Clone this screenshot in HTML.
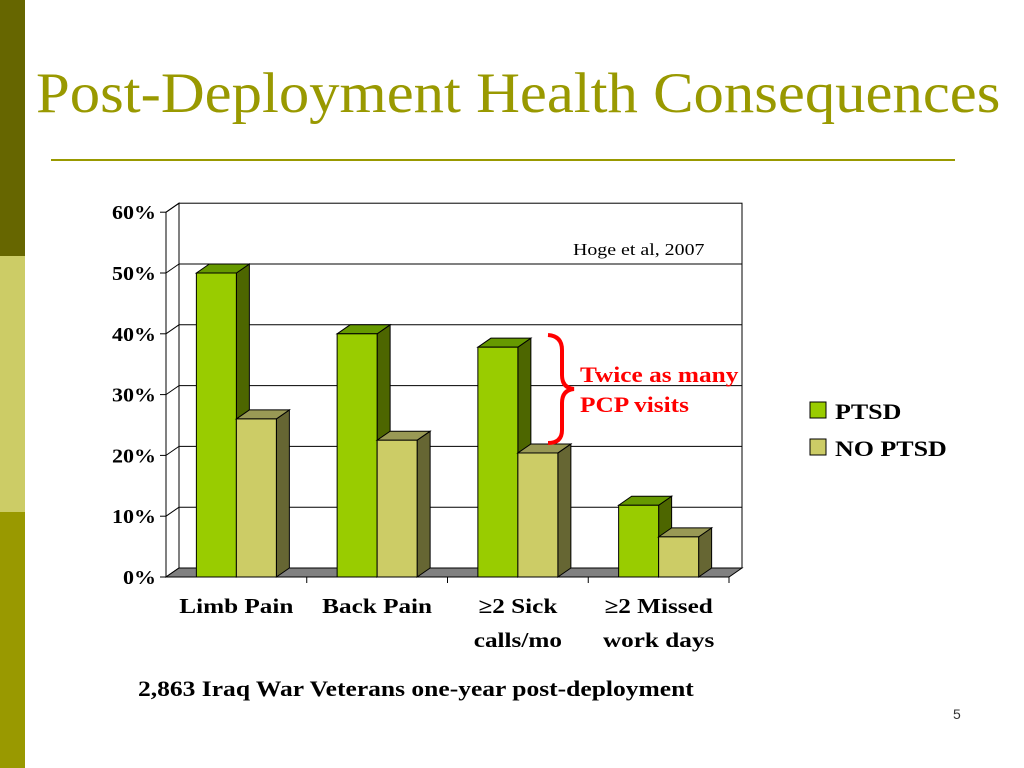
<!DOCTYPE html>
<html><head><meta charset="utf-8"><style>
html,body{margin:0;padding:0;background:#fff;}
body{width:1024px;height:768px;position:relative;overflow:hidden;font-family:"Liberation Serif",serif;}
.sx{transform-origin:0 0;white-space:nowrap;}
</style></head><body>
<div style="position:absolute;left:0;top:0;width:25px;height:256px;background:#666600"></div>
<div style="position:absolute;left:0;top:256px;width:25px;height:256px;background:#cccc66"></div>
<div style="position:absolute;left:0;top:512px;width:25px;height:256px;background:#999900"></div>
<div class="sx" style="position:absolute;left:36px;top:62px;font-size:57px;color:#999900;line-height:64px;transform:scaleX(1.065)">Post-Deployment Health Consequences</div>
<div style="position:absolute;left:51px;top:159px;width:904px;height:2px;background:#999900"></div>
<svg id="chart" width="1024" height="768" style="position:absolute;left:0;top:0"></svg>
<div class="sx" style="position:absolute;left:573px;top:240px;font-size:17px;color:#000;transform:scaleX(1.17)">Hoge et al, 2007</div>
<div class="sx" style="position:absolute;left:580px;top:360px;font-size:22px;font-weight:bold;color:#ff0000;line-height:30px;transform:scaleX(1.15)">Twice as many<br>PCP visits</div>
<div class="sx" style="position:absolute;left:138px;top:676px;font-size:22px;font-weight:bold;color:#000;transform:scaleX(1.16)">2,863 Iraq War Veterans one-year post-deployment</div>
<div style="position:absolute;left:953px;top:706px;font-size:14px;font-family:'Liberation Sans',sans-serif;color:#333">5</div>
<script>
const categories=["Limb Pain","Back Pain","≥2 Sick|calls/mo","≥2 Missed|work days"];
const ptsd=[50,40,37.8,11.8];
const noPtsd=[26,22.5,20.4,6.6];
const yTicks=[0,10,20,30,40,50,60];
const seriesNames=["PTSD","NO PTSD"];
const NS="http://www.w3.org/2000/svg";
const svg=document.getElementById('chart');
const x0=166,x1=729,y0=577,ppv=6.08,dx=13,dy=-9,catW=(x1-x0)/categories.length;
const Y=v=>y0-v*ppv;
function el(t,a,p){const e=document.createElementNS(NS,t);for(const k in a)e.setAttribute(k,a[k]);(p||svg).appendChild(e);return e;}
function stretch(t,f){const w=t.getComputedTextLength();t.setAttribute('textLength',w*f);t.setAttribute('lengthAdjust','spacingAndGlyphs');}
let bw=el('rect',{x:x0+dx,y:Y(60)+dy,width:x1-x0,height:60*ppv,fill:'#fff',stroke:'#000','stroke-width':1});


let lw=el('polygon',{points:`${x0},${y0} ${x0+dx},${y0+dy} ${x0+dx},${Y(60)+dy} ${x0},${Y(60)}`,fill:'#fff',stroke:'#000'});


yTicks.forEach(t=>{
  if(t>0&&t<60){const g=el('line',{x1:x0+dx,y1:Y(t)+dy,x2:x1+dx,y2:Y(t)+dy,stroke:'#000'});
  
  }
  const d=el('line',{x1:x0,y1:Y(t),x2:x0+dx,y2:Y(t)+dy,stroke:'#000'});
  
  
  const tk=el('line',{x1:x0-6,y1:Y(t),x2:x0,y2:Y(t),stroke:'#000'});
  
  
  const lb=el('text',{x:x0-10,y:Y(t)+7,'text-anchor':'end','font-size':20,'font-weight':'bold','font-family':'Liberation Serif,serif'});
  lb.textContent=t+'%';
  
  
  stretch(lb,1.1);
});
let fl=el('polygon',{points:`${x0},${y0} ${x1},${y0} ${x1+dx},${y0+dy} ${x0+dx},${y0+dy}`,fill:'#808080',stroke:'#000'});


el('line',{x1:x0,y1:y0,x2:x0,y2:Y(60),stroke:'#000'});
el('line',{x1:x0,y1:y0,x2:x1,y2:y0,stroke:'#000'});
function bar(x,w,v,front,top,side,name){
  const g=el('g',{});
  
  
  const yt=Y(v);
  el('polygon',{points:`${x+w},${y0} ${x+w+dx},${y0+dy} ${x+w+dx},${yt+dy} ${x+w},${yt}`,fill:side,stroke:'#000'},g);
  el('polygon',{points:`${x},${yt} ${x+dx},${yt+dy} ${x+w+dx},${yt+dy} ${x+w},${yt}`,fill:top,stroke:'#000'},g);
  el('rect',{x:x,y:yt,width:w,height:y0-yt,fill:front,stroke:'#000'},g);
}
categories.forEach((c,i)=>{
  const cx=x0+catW*i+catW/2;
  bar(cx-40,40,ptsd[i],'#99cc00','#669900','#4d6600','bar-ptsd-'+i);
  bar(cx,40,noPtsd[i],'#cccc66','#999955','#666633','bar-no-ptsd-'+i);
  const tk=el('line',{x1:x0+catW*(i+1),y1:y0,x2:x0+catW*(i+1),y2:y0+6,stroke:'#000'});
  
  
  c.split('|').forEach((ln,j)=>{
    const t=el('text',{x:x0+catW*i+catW/2,y:613+j*34,'text-anchor':'middle','font-size':21,'font-weight':'bold','font-family':'Liberation Serif,serif'});
    t.textContent=ln;
    
    
    stretch(t,1.2);
  });
});
const br=el('path',{d:'M548,335 Q562,336 562,350 L562,375 Q562,388 574,389 Q562,390 562,403 L562,430 Q562,443 548,443',fill:'none',stroke:'#ff0000','stroke-width':4});


[['#99cc00',seriesNames[0]],['#cccc66',seriesNames[1]]].forEach((s,i)=>{
  const r=el('rect',{x:810,y:402+i*37,width:16,height:16,fill:s[0],stroke:'#000'});
  
  
  const t=el('text',{x:835,y:419+i*37,'font-size':22,'font-weight':'bold','font-family':'Liberation Serif,serif'});
  t.textContent=s[1];
  
  
  stretch(t,1.18);
});
</script>
</body></html>
